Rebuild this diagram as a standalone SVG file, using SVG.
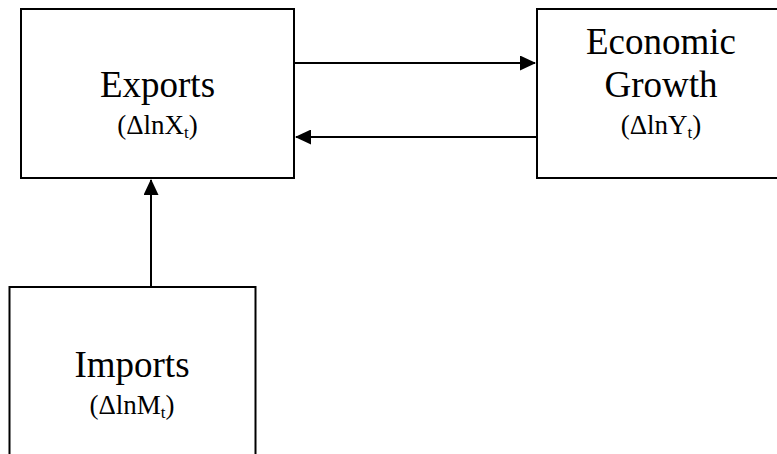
<svg xmlns="http://www.w3.org/2000/svg" width="777" height="454" viewBox="0 0 777 454">
<style>
.box{fill:#fff;stroke:#000;stroke-width:2}
.main{font-family:"Liberation Serif","Times New Roman",serif;font-size:37px;fill:#000;text-anchor:middle}
.sub{font-family:"Liberation Serif","Times New Roman",serif;font-size:27px;fill:#000;text-anchor:middle}
.conn{stroke:#000;stroke-width:2;fill:none;marker-end:url(#ah)}
</style>
<defs>
<marker id="ah" markerUnits="userSpaceOnUse" viewBox="0 0 16 15" refX="15" refY="7.5" markerWidth="16" markerHeight="15" orient="auto">
<path d="M0,0 L16,7.5 L0,15 Z" fill="#000"/>
</marker>
</defs>
<rect width="777" height="454" fill="#fff"/>
<g id="exports">
<rect class="box" x="21" y="9" width="273" height="169"/>
<text class="main" x="157.5" y="97">Exports</text>
<text class="sub" x="157.5" y="134">(ΔlnX<tspan font-size="17" dy="4">t</tspan><tspan dy="-4">)</tspan></text>
</g>
<g id="growth">
<rect class="box" x="537" y="9" width="260" height="169"/>
<text class="main" x="661" y="54">Economic</text>
<text class="main" x="661" y="97">Growth</text>
<text class="sub" x="661" y="134">(ΔlnY<tspan font-size="17" dy="4">t</tspan><tspan dy="-4">)</tspan></text>
</g>
<g id="imports">
<rect class="box" x="9.5" y="287" width="246" height="200"/>
<text class="main" x="132" y="377">Imports</text>
<text class="sub" x="132" y="414">(ΔlnM<tspan font-size="17" dy="4">t</tspan><tspan dy="-4">)</tspan></text>
</g>
<g id="connectors">
<line class="conn" x1="294" y1="63" x2="535" y2="63"/>
<line class="conn" x1="537" y1="137" x2="296" y2="137"/>
<line class="conn" x1="151" y1="287" x2="151" y2="180"/>
</g>
</svg>
